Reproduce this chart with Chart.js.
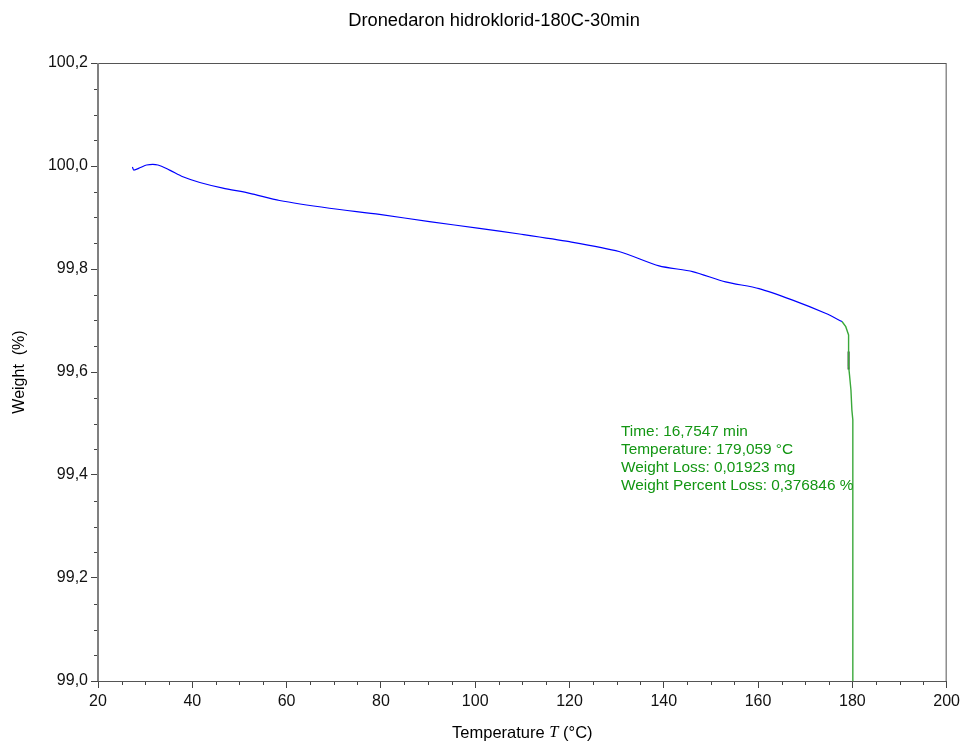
<!DOCTYPE html>
<html>
<head>
<meta charset="utf-8">
<script src="https://cdn.jsdelivr.net/npm/chart.js@4.4.1/dist/chart.umd.min.js"></script>
<style>
  html, body { margin: 0; padding: 0; background: #fff; }
  #wrap { width: 964px; height: 744px; }
</style>
</head>
<body>
<div id="wrap"><canvas id="tgaChart" width="964" height="744"></canvas></div>
<script>
// heating segment (blue)
const heatTemps = [27.3, 27.6, 29.0, 30.3, 32.7, 35.2, 38.0, 41.6, 46.5, 52.2, 58.5, 69.1, 79.7, 90.3, 100.9, 109.4, 120.0, 130.5, 139.0, 146.1, 153.1, 160.2, 167.2, 174.3, 177.8];
const heatWeights = [99.998, 99.992, 99.997, 100.002, 100.002, 99.992, 99.979, 99.968, 99.957, 99.947, 99.933, 99.918, 99.906, 99.892, 99.879, 99.868, 99.853, 99.834, 99.806, 99.795, 99.775, 99.762, 99.740, 99.714, 99.698];
// isothermal segment (green)
const isoTemps = [177.8, 178.6, 179.2, 179.2, 179.4, 179.7, 179.9, 180.1, 180.1];
const isoWeights = [99.698, 99.688, 99.672, 99.612, 99.594, 99.565, 99.526, 99.507, 98.95];
// cursor marker (dark)
const markTemps = [179.2, 179.2];
const markWeights = [99.640, 99.605];

const xTicks = [20, 40, 60, 80, 100, 120, 140, 160, 180, 200];
const yTicks = [99.0, 99.2, 99.4, 99.6, 99.8, 100.0, 100.2];

const chartTitle = "Dronedaron hidroklorid-180C-30min";
const noteLines = [
  "Time: 16,7547 min",
  "Temperature: 179,059 °C",
  "Weight Loss: 0,01923 mg",
  "Weight Percent Loss: 0,376846 %"
];

function toPoints(xs, ys) {
  return xs.map((x, i) => ({ x: x, y: ys[i] }));
}

const FONT = "'Liberation Sans', Arial, sans-serif";

const framePlugin = {
  id: "frame",
  afterDraw(chart) {
    const ctx = chart.ctx;
    const area = chart.chartArea;
    const xs = chart.scales.x;
    const ys = chart.scales.y;
    ctx.save();

    // minor ticks
    ctx.strokeStyle = "#444";
    ctx.lineWidth = 1;
    ctx.beginPath();
    for (let v = 20; v <= 200; v += 5) {
      if (v % 20 === 0) continue;
      const px = Math.round(xs.getPixelForValue(v)) + 0.5;
      ctx.moveTo(px, area.bottom);
      ctx.lineTo(px, area.bottom + 4);
    }
    for (let k = 0; k <= 24; k++) {
      if (k % 4 === 0) continue;
      const py = Math.round(ys.getPixelForValue(99.0 + k * 0.05)) + 0.5;
      ctx.moveTo(area.left, py);
      ctx.lineTo(area.left - 4, py);
    }
    ctx.stroke();

    // box
    ctx.strokeStyle = "#555";
    ctx.lineWidth = 1;
    ctx.strokeRect(area.left + 0.5, area.top + 0.5, area.right - area.left - 1, area.bottom - area.top);
    ctx.strokeStyle = "#808080";
    ctx.lineWidth = 2;
    ctx.beginPath();
    ctx.moveTo(area.left, area.top);
    ctx.lineTo(area.left, area.bottom);
    ctx.stroke();

    // title
    ctx.fillStyle = "#000";
    ctx.textAlign = "center";
    ctx.textBaseline = "middle";
    ctx.font = "18.3px " + FONT;
    ctx.fillText(chartTitle, 494, 21);

    // x axis title with italic T
    ctx.font = "16.5px " + FONT;
    const p1 = "Temperature ";
    const p3 = " (°C)";
    ctx.textAlign = "left";
    const w1 = ctx.measureText(p1).width;
    const w3 = ctx.measureText(p3).width;
    ctx.font = "italic 16.5px 'Liberation Serif', serif";
    const w2 = ctx.measureText("T").width;
    let sx = (area.left + area.right) / 2 - (w1 + w2 + w3) / 2;
    const ty = 733;
    ctx.font = "16.5px " + FONT;
    ctx.fillText(p1, sx, ty);
    ctx.font = "italic 16.5px 'Liberation Serif', serif";
    ctx.fillText("T", sx + w1, ty);
    ctx.font = "16.5px " + FONT;
    ctx.fillText(p3, sx + w1 + w2, ty);

    // y axis title
    ctx.save();
    ctx.translate(20, (area.top + area.bottom) / 2);
    ctx.rotate(-Math.PI / 2);
    ctx.textAlign = "center";
    ctx.font = "16px " + FONT;
    ctx.fillText("Weight  (%)", 0, 0);
    ctx.restore();

    // annotation
    ctx.fillStyle = "#139613";
    ctx.font = "15.4px " + FONT;
    ctx.textAlign = "left";
    noteLines.forEach((t, i) => ctx.fillText(t, 621, 432 + i * 18));

    ctx.restore();
  }
};

const commaLabel = (v) => Number(v).toFixed(1).replace(".", ",");

new Chart(document.getElementById("tgaChart"), {
  type: "scatter",
  data: {
    datasets: [
      {
        label: "Heating",
        data: toPoints(heatTemps, heatWeights),
        showLine: true,
        borderColor: "#0000ff",
        borderWidth: 1.2,
        pointRadius: 0,
        tension: 0.25
      },
      {
        label: "Isothermal",
        data: toPoints(isoTemps, isoWeights),
        showLine: true,
        borderColor: "#3aa83a",
        borderWidth: 1.4,
        pointRadius: 0,
        tension: 0
      },
      {
        label: "Cursor",
        data: toPoints(markTemps, markWeights),
        showLine: true,
        borderColor: "#333333",
        borderWidth: 2,
        pointRadius: 0
      }
    ]
  },
  options: {
    responsive: false,
    animation: false,
    layout: { padding: { left: 0, right: 16, top: 63, bottom: 0 } },
    plugins: {
      legend: { display: false },
      title: { display: false },
      tooltip: { enabled: false }
    },
    scales: {
      x: {
        type: "linear",
        min: 20,
        max: 200,
        afterBuildTicks: (scale) => { scale.ticks = xTicks.map(v => ({ value: v })); },
        afterFit: (scale) => { scale.height = 63; },
        grid: { drawOnChartArea: false, tickLength: 7, tickColor: "#444" },
        border: { display: false },
        ticks: { color: "#111", font: { family: FONT, size: 16 }, padding: 4, maxRotation: 0 }
      },
      y: {
        type: "linear",
        min: 99.0,
        max: 100.2,
        afterBuildTicks: (scale) => { scale.ticks = yTicks.map(v => ({ value: v })); },
        afterFit: (scale) => { scale.width = 98; },
        grid: { drawOnChartArea: false, tickLength: 7, tickColor: "#444" },
        border: { display: false },
        ticks: { color: "#111", font: { family: FONT, size: 16 }, padding: 3, callback: commaLabel }
      }
    }
  },
  plugins: [framePlugin]
});
</script>
</body>
</html>
